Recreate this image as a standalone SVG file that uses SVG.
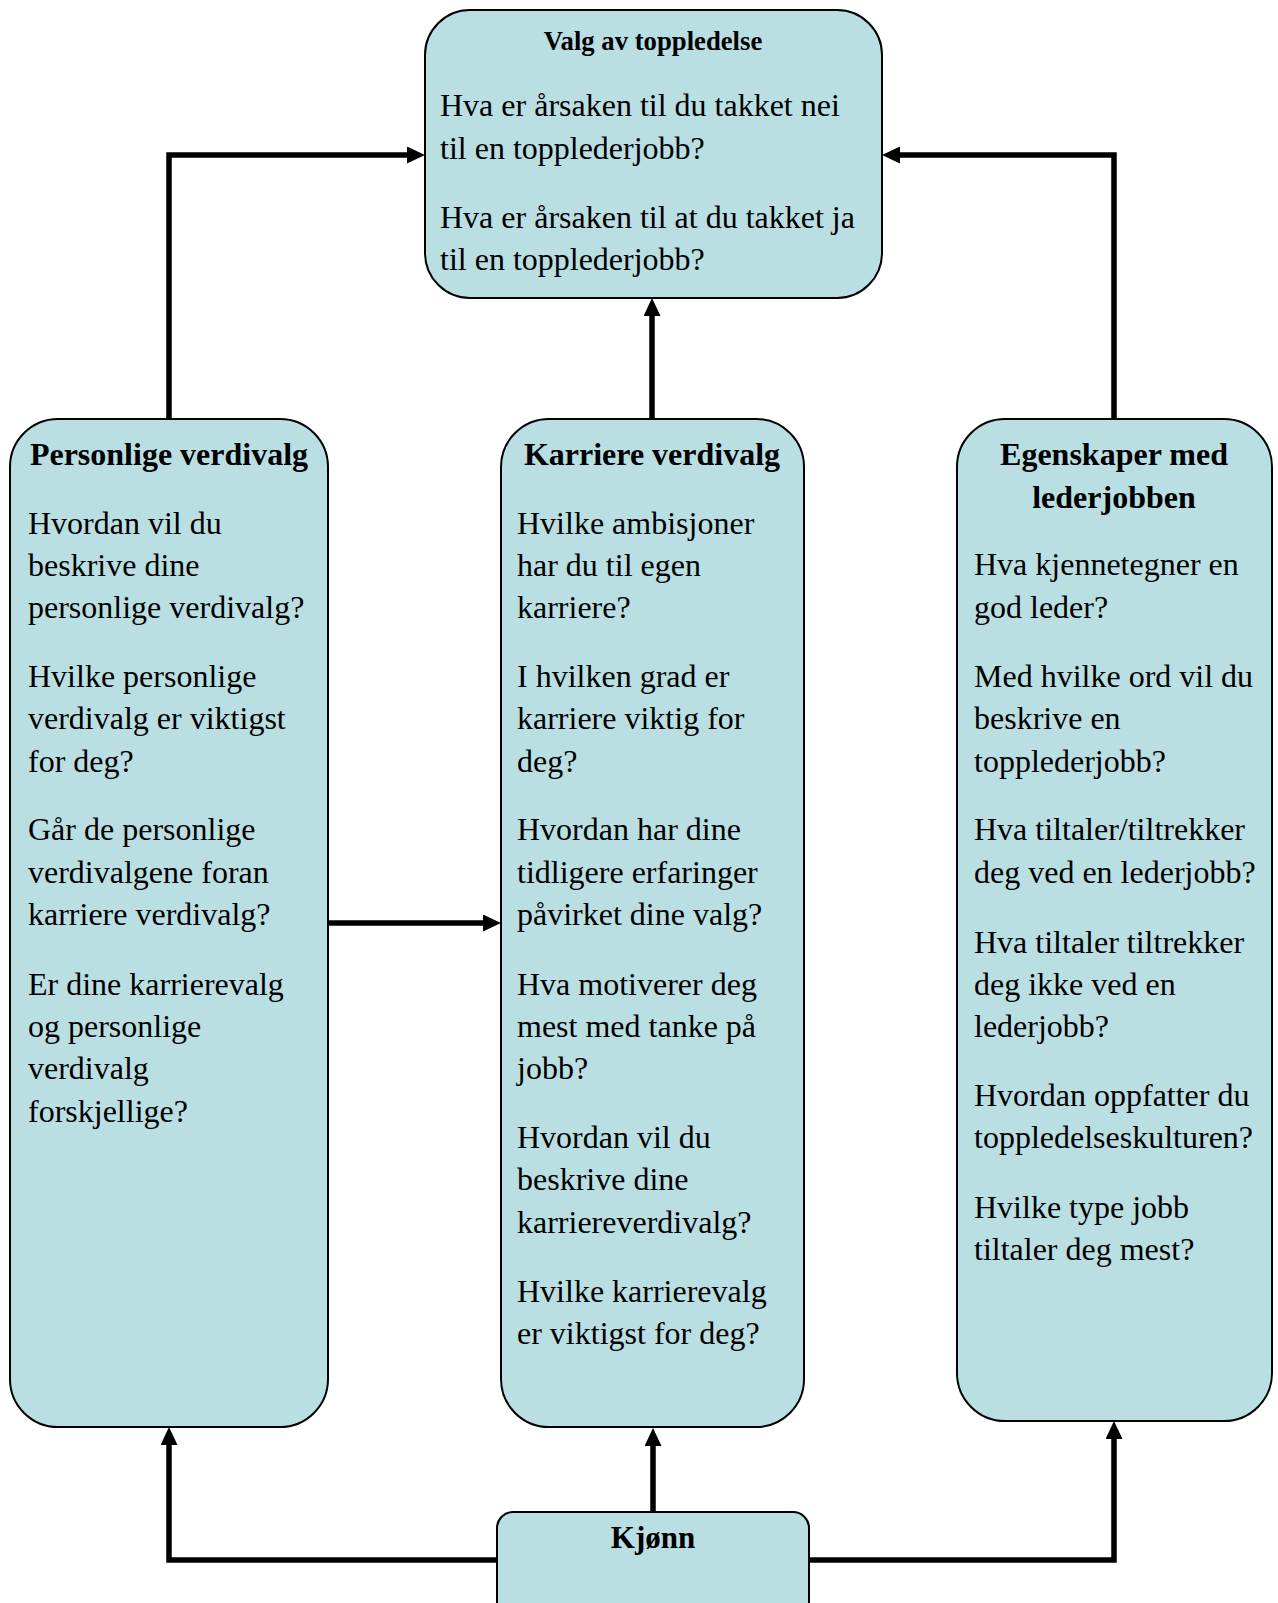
<svg xmlns="http://www.w3.org/2000/svg" width="1278" height="1603" viewBox="0 0 1278 1603">
  <style>
    .box { fill: #badfe3; stroke: #000; stroke-width: 2; }
    .body { font-family: "Liberation Serif", "Times New Roman", serif; font-size: 32px; fill: #000; }
    .head { font-family: "Liberation Serif", "Times New Roman", serif; font-size: 32px; font-weight: bold; fill: #000; text-anchor: middle; }
    .title { font-family: "Liberation Serif", "Times New Roman", serif; font-size: 26.7px; font-weight: bold; fill: #000; text-anchor: middle; }
    .link { fill: none; stroke: #000; stroke-width: 5.5; stroke-linejoin: miter; }
  </style>
  <defs>
    <marker id="arrow" viewBox="0 0 18 17" markerWidth="18" markerHeight="17" markerUnits="userSpaceOnUse" refX="1" refY="8.5" orient="auto">
      <path d="M0,0 L18,8.5 L0,17 Z" fill="#000"/>
    </marker>
  </defs>

  <rect width="1278" height="1603" fill="#fff"/>

  <!-- connectors -->
  <g id="connectors">
    <path class="link" d="M169,419 V155 H408" marker-end="url(#arrow)"/>
    <path class="link" d="M1114,419 V155 H899" marker-end="url(#arrow)"/>
    <path class="link" d="M652,419 V315" marker-end="url(#arrow)"/>
    <path class="link" d="M328,923 H484" marker-end="url(#arrow)"/>
    <path class="link" d="M653,1512 V1445" marker-end="url(#arrow)"/>
    <path class="link" d="M497,1560 H169 V1444" marker-end="url(#arrow)"/>
    <path class="link" d="M809,1560 H1114 V1438" marker-end="url(#arrow)"/>
  </g>

  <!-- top: choice of top management -->
  <g id="valg">
    <rect class="box" x="425" y="10" width="457" height="288" rx="45" ry="45"/>
    <text class="title" x="653" y="50">Valg av toppledelse</text>
    <text class="body">
      <tspan x="440" y="116.3">Hva er årsaken til du takket nei</tspan>
      <tspan x="440" y="158.7">til en topplederjobb?</tspan>
      <tspan x="440" y="227.8">Hva er årsaken til at du takket ja</tspan>
      <tspan x="440" y="270.2">til en topplederjobb?</tspan>
    </text>
  </g>

  <!-- left: personal values -->
  <g id="personlige">
    <rect class="box" x="10" y="419" width="318" height="1008" rx="48" ry="48"/>
    <text class="head" x="169" y="465">Personlige verdivalg</text>
    <text class="body">
      <tspan x="28" y="533.5">Hvordan vil du</tspan>
      <tspan x="28" y="575.9">beskrive dine</tspan>
      <tspan x="28" y="618.3">personlige verdivalg?</tspan>
      <tspan x="28" y="686.8">Hvilke personlige</tspan>
      <tspan x="28" y="729.2">verdivalg er viktigst</tspan>
      <tspan x="28" y="771.6">for deg?</tspan>
      <tspan x="28" y="840.2">Går de personlige</tspan>
      <tspan x="28" y="882.6">verdivalgene foran</tspan>
      <tspan x="28" y="925">karriere verdivalg?</tspan>
      <tspan x="28" y="994.6">Er dine karrierevalg</tspan>
      <tspan x="28" y="1037">og personlige</tspan>
      <tspan x="28" y="1079.4">verdivalg</tspan>
      <tspan x="28" y="1121.8">forskjellige?</tspan>
    </text>
  </g>

  <!-- middle: career values -->
  <g id="karriere">
    <rect class="box" x="501" y="419" width="303" height="1008" rx="48" ry="48"/>
    <text class="head" x="652" y="465">Karriere verdivalg</text>
    <text class="body">
      <tspan x="517" y="533.5">Hvilke ambisjoner</tspan>
      <tspan x="517" y="575.9">har du til egen</tspan>
      <tspan x="517" y="618.3">karriere?</tspan>
      <tspan x="517" y="686.8">I hvilken grad er</tspan>
      <tspan x="517" y="729.2">karriere viktig for</tspan>
      <tspan x="517" y="771.6">deg?</tspan>
      <tspan x="517" y="840.2">Hvordan har dine</tspan>
      <tspan x="517" y="882.6">tidligere erfaringer</tspan>
      <tspan x="517" y="925">påvirket dine valg?</tspan>
      <tspan x="517" y="994.6">Hva motiverer deg</tspan>
      <tspan x="517" y="1037">mest med tanke på</tspan>
      <tspan x="517" y="1079.4">jobb?</tspan>
      <tspan x="517" y="1148">Hvordan vil du</tspan>
      <tspan x="517" y="1190.4">beskrive dine</tspan>
      <tspan x="517" y="1232.8">karriereverdivalg?</tspan>
      <tspan x="517" y="1301.5">Hvilke karrierevalg</tspan>
      <tspan x="517" y="1343.9">er viktigst for deg?</tspan>
    </text>
  </g>

  <!-- right: qualities of the leader job -->
  <g id="egenskaper">
    <rect class="box" x="957" y="419" width="315" height="1002" rx="48" ry="48"/>
    <text class="head">
      <tspan x="1118" y="465">Egenskaper med</tspan>
      <tspan x="1114" y="508">lederjobben</tspan>
    </text>
    <text class="body">
      <tspan x="974" y="575.4">Hva kjennetegner en</tspan>
      <tspan x="974" y="617.8">god leder?</tspan>
      <tspan x="974" y="686.8">Med hvilke ord vil du</tspan>
      <tspan x="974" y="729.2">beskrive en</tspan>
      <tspan x="974" y="771.6">topplederjobb?</tspan>
      <tspan x="974" y="840.2">Hva tiltaler/tiltrekker</tspan>
      <tspan x="974" y="882.6">deg ved en lederjobb?</tspan>
      <tspan x="974" y="952.6">Hva tiltaler tiltrekker</tspan>
      <tspan x="974" y="995">deg ikke ved en</tspan>
      <tspan x="974" y="1037.4">lederjobb?</tspan>
      <tspan x="974" y="1106">Hvordan oppfatter du</tspan>
      <tspan x="974" y="1148.4">toppledelseskulturen?</tspan>
      <tspan x="974" y="1217.5">Hvilke type jobb</tspan>
      <tspan x="974" y="1259.9">tiltaler deg mest?</tspan>
    </text>
  </g>

  <!-- bottom: gender -->
  <g id="kjonn">
    <rect class="box" x="497" y="1512" width="312" height="110" rx="16" ry="16"/>
    <text class="head" x="653" y="1548" style="font-size:31px">Kjønn</text>
  </g>
</svg>
